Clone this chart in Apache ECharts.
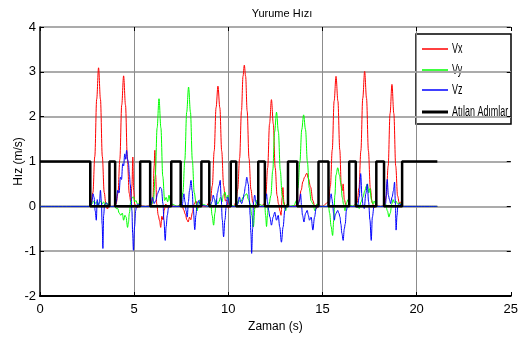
<!DOCTYPE html>
<html>
<head>
<meta charset="utf-8">
<script src="https://cdn.jsdelivr.net/npm/echarts@6/dist/echarts.min.js"></script>
<style>
  html, body { margin: 0; padding: 0; background: #fff; }
  #chart { width: 521px; height: 338px; }
</style>
</head>
<body>
<div id="chart"></div>
<script>
// Vx, Vy, Vz as [zaman, hiz] pairs
var vxData = [
  [0,0],[2.67,0],[2.71,0.05],[2.81,0.31],[2.91,1.11],[3.01,2.39],[3.11,3.09],[3.21,2.39],[3.31,1.11],[3.41,0.31],
  [3.5,0.04],[3.58,-0.06],[3.66,0.04],[3.76,0],[3.94,0.01],[4.04,0.05],[4.14,0.29],[4.24,1.05],[4.34,2.26],[4.44,2.91],
  [4.54,2.26],[4.64,1.05],[4.74,0.29],[4.82,0.1],[4.88,0.45],[4.93,1.1],[4.97,0.35],[5.03,0.05],[5.15,-0.03],[5.3,0.02],
  [5.6,0],[5.92,0.02],[6.0,0.2],[6.06,0.9],[6.1,1.25],[6.14,0.7],[6.2,0.05],[6.28,-0.2],[6.35,-0.32],[6.41,-0.47],
  [6.47,-0.22],[6.53,-0.3],[6.6,-0.08],[6.68,0.05],[6.78,-0.04],[6.9,0.02],[7.2,0],[7.55,0.02],[7.63,-0.08],[7.72,-0.18],
  [7.8,-0.3],[7.87,-0.35],[7.94,-0.24],[8.01,-0.3],[8.09,-0.14],[8.18,0.04],[8.28,0.12],[8.38,-0.04],[8.5,0.02],[8.8,0],
  [9.05,0.12],[9.15,0.46],[9.25,1.23],[9.35,2.2],[9.45,2.68],[9.55,2.2],[9.65,1.23],[9.75,0.46],[9.85,0.12],[9.93,0.14],
  [10.0,-0.04],[10.1,0.02],[10.3,0],[10.4,0.09],[10.5,0.38],[10.6,1.07],[10.7,2.13],[10.78,2.9],[10.85,3.15],[10.92,2.9],
  [11.0,2.13],[11.1,1.07],[11.2,0.38],[11.3,0.09],[11.4,-0.05],[11.5,0.03],[11.7,0],[11.89,0.04],[11.99,0.24],[12.09,0.86],
  [12.19,1.84],[12.29,2.38],[12.39,1.84],[12.49,0.86],[12.59,0.24],[12.67,0.05],[12.74,-0.1],[12.8,-0.2],[12.86,0.2],[12.9,0.42],
  [12.95,0.1],[13.02,-0.05],[13.1,0.03],[13.3,0],[13.66,0.02],[13.75,0.1],[13.87,0.36],[13.96,0.55],[14.05,0.65],[14.17,0.74],
  [14.25,0.62],[14.37,0.43],[14.49,0.13],[14.58,0.02],[14.68,-0.05],[14.78,0.02],[15.0,0],[15.32,0.1],[15.42,0.45],[15.52,1.26],
  [15.62,2.35],[15.72,2.9],[15.82,2.35],[15.92,1.26],[16.0,0.45],[16.05,0.35],[16.1,0.5],[16.16,0.15],[16.25,0.02],[16.38,0.02],
  [16.6,0],[16.84,0.08],[16.94,0.41],[17.04,1.24],[17.14,2.41],[17.24,3.01],[17.34,2.41],[17.44,1.24],[17.54,0.41],[17.64,0.08],
  [17.75,-0.03],[17.85,0.02],[18.1,0],[18.29,0.03],[18.39,0.23],[18.49,0.9],[18.59,2.07],[18.69,2.72],[18.79,2.07],[18.89,0.9],
  [18.99,0.23],[19.09,0.05],[19.15,0.1],[19.25,0],[21.1,0]
];

var vyData = [
  [0,0],[2.67,0],[2.75,0.05],[2.85,0.12],[2.92,0.06],[3.0,0.1],[3.08,0.02],[3.15,0.08],[3.22,0.12],[3.3,0.05],
  [3.38,0.1],[3.45,0.03],[3.55,0.08],[3.65,0],[3.95,0],[4.05,-0.05],[4.13,-0.05],[4.2,-0.15],[4.3,-0.2],[4.37,-0.15],
  [4.44,-0.31],[4.51,-0.2],[4.57,-0.24],[4.65,-0.47],[4.7,-0.35],[4.74,-0.16],[4.83,0.13],[4.9,0.2],[4.97,0.21],[5.03,0.1],
  [5.09,0.13],[5.18,0.05],[5.27,0.06],[5.35,0],[5.85,0],[5.92,0.04],[6.02,0.13],[6.12,0.67],[6.22,1.75],[6.32,2.4],
  [6.42,1.75],[6.52,0.67],[6.62,0.13],[6.7,0.2],[6.78,0.1],[6.85,0.25],[6.92,0.12],[7.0,0.05],[7.3,0],[7.49,0.06],
  [7.59,0.31],[7.69,1.03],[7.79,2.1],[7.89,2.66],[7.99,2.1],[8.09,1.03],[8.19,0.31],[8.29,0.06],[8.35,-0.1],[8.42,0.1],
  [8.5,0.15],[8.57,0.05],[8.99,0],[9.07,0.05],[9.14,-0.2],[9.22,-0.42],[9.29,-0.15],[9.36,0.15],[9.43,0.05],[9.5,0.1],
  [9.58,0.2],[9.66,0.1],[9.74,0.25],[9.82,0.32],[9.9,0.18],[9.98,0.25],[10.06,0.08],[10.13,0.02],[10.42,0],[10.54,0.13],
  [10.66,0.1],[10.8,0.21],[10.98,0.28],[11.07,0.15],[11.15,0.06],[11.25,-0.2],[11.33,-0.46],[11.42,0],[11.5,0.13],[11.58,0.05],
  [11.94,0],[11.98,-0.2],[12.03,-0.45],[12.08,-0.2],[12.12,0],[12.16,0.04],[12.26,0.24],[12.36,0.8],[12.46,1.66],[12.56,2.1],
  [12.66,1.66],[12.76,0.8],[12.86,0.24],[12.96,0.04],[13.05,-0.1],[13.12,0.05],[13.2,0],[13.5,0.02],[13.6,0.12],[13.7,0.41],
  [13.8,0.99],[13.9,1.71],[14.0,2.04],[14.1,1.71],[14.2,0.99],[14.3,0.41],[14.4,0.12],[14.5,0.05],[14.6,-0.1],[14.7,0.05],
  [14.79,0],[15.32,0],[15.38,-0.15],[15.46,-0.45],[15.54,-0.65],[15.6,-0.3],[15.66,0.25],[15.72,0.7],[15.81,0.86],[15.9,0.7],
  [15.98,0.5],[16.05,0.2],[16.12,0.05],[16.2,-0.1],[16.28,0.08],[16.36,0.15],[16.42,0.02],[16.77,0],[16.85,0.05],[16.95,-0.05],
  [17.05,0.1],[17.15,0.2],[17.25,0.35],[17.33,0.45],[17.39,0.5],[17.46,0.3],[17.52,0.4],[17.6,0.15],[17.68,0.05],[17.75,0.12],
  [17.86,0],[18.27,0],[18.35,0.05],[18.45,-0.1],[18.53,-0.24],[18.6,-0.15],[18.68,0.05],[18.75,0.15],[18.82,0.08],[18.9,0.12],
  [19.0,0.05],[19.1,0.08],[19.23,0],[21.1,0]
];

var vzData = [
  [0,0],[2.67,0],[2.7,0.02],[2.76,0.1],[2.82,0.28],[2.87,0.2],[2.93,-0.1],[2.99,-0.31],[3.04,0.15],[3.1,0],
  [3.16,0.1],[3.21,0.36],[3.26,0.1],[3.3,-0.4],[3.34,-0.94],[3.38,-0.2],[3.43,0.04],[3.52,0.08],[3.6,0.02],[3.69,0],
  [3.99,0],[4.05,0.1],[4.13,0.36],[4.2,0.3],[4.27,0.65],[4.33,0.6],[4.39,0.95],[4.44,0.9],[4.5,1.17],[4.55,1.05],
  [4.6,1.25],[4.65,1.05],[4.7,0.95],[4.75,0.7],[4.79,0.5],[4.84,0.2],[4.88,-0.09],[4.92,-0.6],[4.96,-0.98],[5.02,-0.46],
  [5.08,-0.1],[5.13,0.03],[5.2,0.05],[5.3,0],[5.85,0],[5.9,0.05],[5.97,0.2],[6.06,0.06],[6.15,0.13],[6.24,0.28],
  [6.31,0.35],[6.38,0.43],[6.45,0.39],[6.53,0.06],[6.58,-0.3],[6.65,-0.76],[6.7,-0.45],[6.76,-0.2],[6.82,-0.05],[6.9,0.02],
  [6.97,0],[7.47,0],[7.55,0.02],[7.64,0.28],[7.7,0.1],[7.76,-0.1],[7.82,-0.24],[7.88,0.1],[7.94,0.35],[8.02,0.58],
  [8.08,0.35],[8.14,-0.05],[8.22,-0.52],[8.28,-0.2],[8.34,0.06],[8.43,0.13],[8.52,0.02],[8.99,0],[9.07,0.04],[9.13,0.1],
  [9.2,0.25],[9.27,0.15],[9.34,-0.02],[9.42,0.3],[9.5,0.45],[9.57,0.58],[9.62,0.2],[9.68,-0.3],[9.75,-0.68],[9.82,-0.3],
  [9.89,0],[9.96,0.21],[10.05,0.06],[10.13,0],[10.42,0],[10.5,0.05],[10.59,0.21],[10.66,0.1],[10.71,0.06],[10.78,0.15],
  [10.84,0.28],[10.91,0.45],[10.98,0.65],[11.06,0.5],[11.12,0.15],[11.16,-0.2],[11.2,-0.6],[11.24,-1.05],[11.29,-0.5],[11.34,0.1],
  [11.4,0.25],[11.47,0.1],[11.55,0.03],[11.6,0],[11.94,0],[11.98,0.15],[12.03,0.28],[12.08,0.1],[12.14,-0.09],[12.21,-0.24],
  [12.29,-0.42],[12.38,-0.24],[12.47,-0.13],[12.56,-0.31],[12.65,-0.2],[12.73,-0.46],[12.82,-0.8],[12.91,-0.46],[13.0,-0.09],[13.08,0.02],
  [13.17,0],[13.66,0],[13.72,0.05],[13.79,0.15],[13.84,0.28],[13.89,0],[13.94,-0.2],[14.02,-0.35],[14.1,-0.16],[14.19,-0.09],
  [14.25,-0.2],[14.31,-0.31],[14.4,-0.24],[14.49,-0.53],[14.58,-0.24],[14.66,-0.05],[14.74,0.02],[14.79,0],[15.32,0],[15.37,0.06],
  [15.42,0.2],[15.46,0.28],[15.51,0.15],[15.54,0.06],[15.59,-0.15],[15.63,-0.31],[15.68,-0.2],[15.72,-0.16],[15.81,-0.09],[15.87,-0.15],
  [15.93,-0.24],[15.98,-0.4],[16.03,-0.6],[16.1,-0.76],[16.16,-0.5],[16.21,-0.39],[16.27,-0.1],[16.33,0.02],[16.42,0],[16.77,0],
  [16.86,-0.02],[16.95,0.21],[17.03,0.73],[17.1,0.2],[17.16,0],[17.22,-0.05],[17.3,0.28],[17.38,0.5],[17.45,0.1],[17.52,-0.3],
  [17.59,-0.76],[17.65,-0.24],[17.74,0.02],[17.86,0],[18.27,0],[18.35,0.06],[18.44,0.6],[18.5,0.25],[18.56,0.15],[18.62,0.06],
  [18.7,0.21],[18.77,0.35],[18.83,0.54],[18.87,0.1],[18.91,-0.53],[18.96,-0.2],[19.0,0],[19.09,0.06],[19.23,0],[21.1,0]
];

// Atilan Adimlar: edge times and the level held after each edge
var stepTimes = [0, 2.67, 3.69, 3.99, 5.32, 5.85, 6.97, 7.47, 8.57, 8.99, 10.13, 10.42,
                 11.59, 11.94, 13.17, 13.66, 14.79, 15.32, 16.42, 16.77, 17.86, 18.27, 19.23, 21.1];
var stepLevels = [1,0,1,0,1,0,1,0,1,0,1,0,1,0,1,0,1,0,1,0,1,0,1];

var seriesNames = ['Vx', 'Vy', 'Vz', 'Atılan Adımlar'];
var seriesColors = ['#ff0000', '#00ff00', '#0000ff', '#000000'];
var xTicks = [0, 25, 5];
var yTicks = [-2, 4, 1];

var FONT = "'Liberation Sans', Arial, sans-serif";

var stepData = [];
for (var i = 0; i < stepLevels.length; i++) {
	stepData.push([stepTimes[i], stepLevels[i]]);
	stepData.push([stepTimes[i + 1], stepLevels[i]]);
}

var chart = echarts.init(document.getElementById('chart'));

function waveSeries(idx, data) {
	return {
		name: seriesNames[idx],
		type: 'line',
		data: data,
		color: seriesColors[idx],
		showSymbol: false,
		smooth: 0.35,
		smoothMonotone: 'x',
		lineStyle: { width: 1, color: seriesColors[idx] },
		z: 2 + idx
	};
}

// legend box drawn by hand so the narrow lettering of the original fits
var legendChildren = [{
	type: 'rect',
	shape: { x: 0, y: 0, width: 95, height: 90 },
	style: { fill: '#fff', stroke: '#000', lineWidth: 1.5 }
}];
var legendRows = [15, 36, 56, 78];
for (var k = 0; k < seriesNames.length; k++) {
	legendChildren.push({
		type: 'line',
		shape: { x1: 6, y1: legendRows[k], x2: 32, y2: legendRows[k] },
		style: { stroke: seriesColors[k], lineWidth: k == 3 ? 3 : 1.5 }
	});
	legendChildren.push({
		type: 'text',
		x: 36,
		y: legendRows[k],
		scaleX: 0.64,
		style: {
			text: seriesNames[k],
			font: "14px 'Liberation Sans', Arial, sans-serif",
			fill: '#000',
			verticalAlign: 'middle'
		}
	});
}

var option = {
	animation: false,
	backgroundColor: '#fff',
	title: {
		text: 'Yurume Hızı',
		left: 277,
		top: 3,
		textAlign: 'center',
		textStyle: { fontFamily: FONT, fontSize: 11, fontWeight: 'normal', color: '#000' }
	},
	graphic: [{
		type: 'group',
		x: 416,
		y: 34,
		z: 100,
		children: legendChildren
	}],
	grid: { left: 40, right: 6, top: 27, bottom: 42 },
	xAxis: [{
		type: 'value',
		min: xTicks[0], max: xTicks[1], interval: xTicks[2],
		name: 'Zaman (s)',
		nameLocation: 'middle',
		nameGap: 22,
		nameTextStyle: { fontFamily: FONT, fontSize: 12, color: '#000' },
		axisLine: { show: true, onZero: false, lineStyle: { color: '#000', width: 2 } },
		axisTick: { show: true, inside: true, length: 4, lineStyle: { color: '#000' } },
		axisLabel: { margin: 7, fontFamily: FONT, fontSize: 13, color: '#000' },
		splitLine: { show: true, showMinLine: false, showMaxLine: false, lineStyle: { color: '#8c8c8c', width: 1 } }
	}, {
		type: 'value',
		position: 'top',
		min: xTicks[0], max: xTicks[1], interval: xTicks[2],
		axisLine: { show: false, onZero: false },
		axisTick: { show: true, inside: true, length: 4, lineStyle: { color: '#000' } },
		axisLabel: { show: false },
		splitLine: { show: false }
	}],
	yAxis: [{
		type: 'value',
		min: yTicks[0], max: yTicks[1], interval: yTicks[2],
		name: 'Hız (m/s)',
		nameLocation: 'middle',
		nameGap: 15,
		nameMoveOverlap: false,
		nameTextStyle: { fontFamily: FONT, fontSize: 12, color: '#000' },
		axisLine: { show: true, onZero: false, lineStyle: { color: '#000', width: 1.5 } },
		axisTick: { show: true, inside: true, length: 4, lineStyle: { color: '#000' } },
		axisLabel: { margin: 4, fontFamily: FONT, fontSize: 13, color: '#000' },
		splitLine: { show: true, showMinLine: false, lineStyle: { color: '#ababab', width: 2 } }
	}, {
		type: 'value',
		position: 'right',
		min: yTicks[0], max: yTicks[1], interval: yTicks[2],
		axisLine: { show: false, onZero: false },
		axisTick: { show: true, inside: true, length: 4, lineStyle: { color: '#000' } },
		axisLabel: { show: false },
		splitLine: { show: false }
	}],
	series: [
		waveSeries(0, vxData),
		waveSeries(1, vyData),
		waveSeries(2, vzData),
		{
			name: seriesNames[3],
			type: 'line',
			data: stepData,
			color: seriesColors[3],
			showSymbol: false,
			lineStyle: { width: 2.5, color: seriesColors[3] },
			z: 6
		}
	]
};

chart.setOption(option);
</script>
</body>
</html>
